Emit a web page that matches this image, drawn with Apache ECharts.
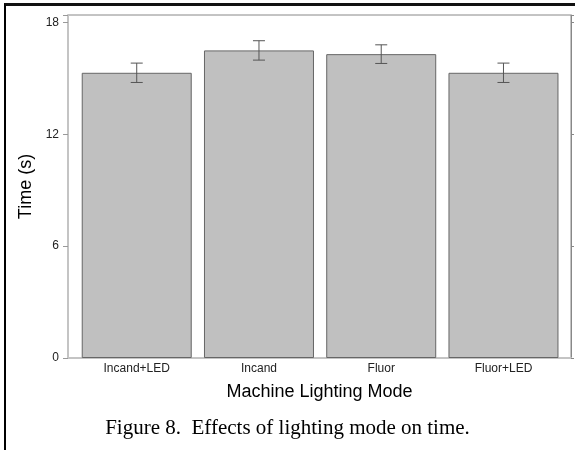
<!DOCTYPE html>
<html>
<head>
<meta charset="utf-8">
<script src="https://cdn.jsdelivr.net/npm/echarts@6/dist/echarts.min.js"></script>
<style>
html,body{margin:0;padding:0;background:#fff;}
#chart{width:575px;height:450px;position:absolute;left:0;top:0;}
#frame{position:absolute;left:4px;top:3px;width:600px;height:500px;border-left:2px solid #000;border-top:3px solid #111;pointer-events:none;}
</style>
</head>
<body>
<div id="chart"></div>
<div id="frame"></div>
<script>
var categories = ['Incand+LED', 'Incand', 'Fluor', 'Fluor+LED'];
var meanTime = [15.3, 16.5, 16.3, 15.3];
var errTime = [0.52, 0.52, 0.5, 0.52];
var yTicks = [0, 6, 12, 18];

var chart = echarts.init(document.getElementById('chart'), null, {renderer: 'canvas'});
var yMax = 18.4;
var errData = categories.map(function (c, i) {
  return [i, meanTime[i] - errTime[i], meanTime[i] + errTime[i]];
});
var option = {
  animation: false,
  title: {
    text: 'Figure 8.  Effects of lighting mode on time.',
    left: 'center',
    top: 413,
    textStyle: {fontFamily: 'Liberation Serif', fontSize: 21, fontWeight: 'normal', color: '#000'}
  },
  grid: [
    {left: 68, top: 15, width: 503, height: 343, show: true, borderColor: '#888', borderWidth: 1, backgroundColor: 'transparent'},
    {left: 75.6, top: 15, width: 489, height: 343, show: false}
  ],
  xAxis: [
    {
      type: 'category', gridIndex: 0, data: [''],
      axisLine: {show: true, lineStyle: {color: '#c4c4c4', width: 2}},
      axisTick: {show: false}, axisLabel: {show: false},
      name: 'Machine Lighting Mode', nameLocation: 'middle', nameGap: 25,
      nameTextStyle: {fontFamily: 'Liberation Sans', fontSize: 18, color: '#000'},
      splitLine: {show: false}
    },
    {
      type: 'category', gridIndex: 1, data: categories,
      axisLine: {show: false}, axisTick: {show: false},
      axisLabel: {fontFamily: 'Liberation Sans', fontSize: 12, color: '#222', margin: 5},
      splitLine: {show: false}
    }
  ],
  yAxis: [
    {
      type: 'value', gridIndex: 0, min: 0, max: yMax, interval: 6,
      axisLine: {show: true, lineStyle: {color: '#c4c4c4', width: 2}},
      axisTick: {show: true, length: 5, lineStyle: {color: '#999'}},
      axisLabel: {fontFamily: 'Liberation Sans', fontSize: 12, color: '#222', margin: 9,
        formatter: function (v) { return yTicks.indexOf(v) >= 0 ? String(v) : ''; }},
      splitLine: {show: false},
      name: 'Time (s)', nameLocation: 'middle', nameGap: 30,
      nameTextStyle: {fontFamily: 'Liberation Sans', fontSize: 18, color: '#000'}
    },
    {
      type: 'value', gridIndex: 0, position: 'right', min: 0, max: yMax, interval: 6,
      axisLine: {show: true, lineStyle: {color: '#888', width: 1}},
      axisTick: {show: true, length: 3, lineStyle: {color: '#888'}},
      axisLabel: {show: false}, splitLine: {show: false}
    },
    {
      type: 'value', gridIndex: 1, min: 0, max: yMax, interval: 6, show: false
    }
  ],
  series: [
    {
      type: 'bar', xAxisIndex: 1, yAxisIndex: 2, data: meanTime, barWidth: 110,
      itemStyle: {color: '#c0c0c0', borderColor: '#666', borderWidth: 1},
      z: 2
    },
    {
      type: 'custom', xAxisIndex: 1, yAxisIndex: 2, data: errData, z: 3,
      renderItem: function (params, api) {
        var x = api.value(0);
        var lo = api.coord([x, api.value(1)]);
        var hi = api.coord([x, api.value(2)]);
        var w = 6;
        var st = {stroke: '#555', lineWidth: 1, fill: null};
        return {
          type: 'group',
          children: [
            {type: 'line', shape: {x1: hi[0], y1: hi[1], x2: lo[0], y2: lo[1]}, style: st},
            {type: 'line', shape: {x1: hi[0] - w, y1: hi[1], x2: hi[0] + w, y2: hi[1]}, style: st},
            {type: 'line', shape: {x1: lo[0] - w, y1: lo[1], x2: lo[0] + w, y2: lo[1]}, style: st}
          ]
        };
      }
    }
  ]
};
chart.setOption(option);
</script>
</body>
</html>
